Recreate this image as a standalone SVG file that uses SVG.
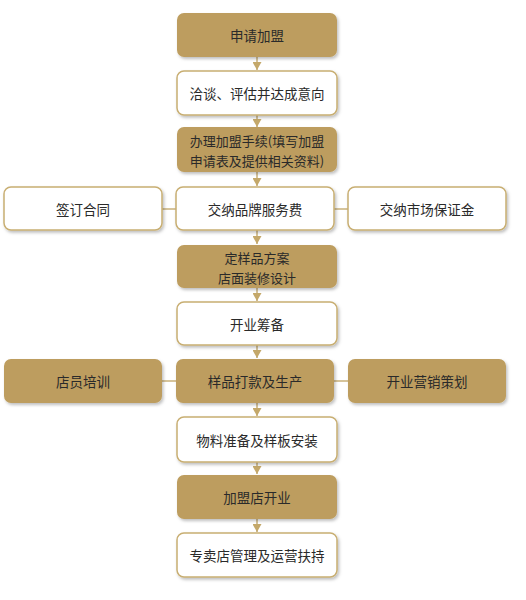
<svg xmlns="http://www.w3.org/2000/svg" width="526" height="600" viewBox="0 0 526 600">
<defs>
<filter id="sh" x="-10%" y="-20%" width="130%" height="150%">
<feDropShadow dx="1.5" dy="2" stdDeviation="1.5" flood-color="#000" flood-opacity="0.25"/>
</filter>
<marker id="ah" viewBox="0 0 10 10" refX="10" refY="5" markerWidth="8" markerHeight="9" orient="auto" markerUnits="userSpaceOnUse" preserveAspectRatio="none">
<path d="M0,0 L10,5 L0,10 Z" fill="#C4A86A"/>
</marker>
<style>
.g rect{fill:#BD9D5F;filter:url(#sh)}
.w rect{fill:#fff;stroke:#C8AE72;stroke-width:1.5;filter:url(#sh)}
text{font-family:"Noto Sans CJK SC","Noto Sans",sans-serif;font-size:13.5px;fill:#2a2a2a;text-anchor:middle;dominant-baseline:central}
text.m{font-size:13px}
.c line{stroke:#C9B07A;stroke-width:1.5}
</style>
</defs>
<rect width="526" height="600" fill="#fff"/>
<g class="c">
<line x1="257" y1="57" x2="257" y2="70" marker-end="url(#ah)"/>
<line x1="257" y1="115" x2="257" y2="127" marker-end="url(#ah)"/>
<line x1="257" y1="172" x2="257" y2="186" marker-end="url(#ah)"/>
<line x1="257" y1="230" x2="257" y2="244" marker-end="url(#ah)"/>
<line x1="257" y1="288" x2="257" y2="301" marker-end="url(#ah)"/>
<line x1="257" y1="345" x2="257" y2="358" marker-end="url(#ah)"/>
<line x1="257" y1="403" x2="257" y2="416" marker-end="url(#ah)"/>
<line x1="257" y1="462" x2="257" y2="474" marker-end="url(#ah)"/>
<line x1="257" y1="519" x2="257" y2="532" marker-end="url(#ah)"/>
<line x1="162" y1="209" x2="176" y2="209"/>
<line x1="334" y1="209" x2="348" y2="209"/>
<line x1="162" y1="381" x2="176" y2="381"/>
<line x1="334" y1="381" x2="348" y2="381"/>
</g>
<g id="n1" class="g"><rect x="177" y="13" width="160" height="44" rx="7"/><text x="257" y="35">申请加盟</text></g>
<g id="n2" class="w"><rect x="177" y="71" width="160" height="44" rx="7"/><text x="257" y="93">洽谈、评估并达成意向</text></g>
<g id="n3" class="g"><rect x="177" y="127" width="160" height="45" rx="7"/><text class="m" x="257" y="140">办理加盟手续(填写加盟</text><text class="m" x="257" y="160">申请表及提供相关资料)</text></g>
<g id="n4a" class="w"><rect x="4" y="187" width="158" height="43" rx="7"/><text x="83" y="209">签订合同</text></g>
<g id="n4" class="w"><rect x="176" y="187" width="158" height="43" rx="7"/><text x="255" y="209">交纳品牌服务费</text></g>
<g id="n4b" class="w"><rect x="348" y="187" width="158" height="43" rx="7"/><text x="427" y="209">交纳市场保证金</text></g>
<g id="n5" class="g"><rect x="177" y="245" width="160" height="43" rx="7"/><text class="m" x="257" y="257">定样品方案</text><text class="m" x="257" y="277">店面装修设计</text></g>
<g id="n6" class="w"><rect x="177" y="302" width="160" height="43" rx="7"/><text x="257" y="324">开业筹备</text></g>
<g id="n7a" class="g"><rect x="4" y="359" width="158" height="44" rx="7"/><text x="83" y="381">店员培训</text></g>
<g id="n7" class="g"><rect x="176" y="359" width="158" height="44" rx="7"/><text x="255" y="381">样品打款及生产</text></g>
<g id="n7b" class="g"><rect x="348" y="359" width="158" height="44" rx="7"/><text x="427" y="381">开业营销策划</text></g>
<g id="n8" class="w"><rect x="177" y="417" width="160" height="45" rx="7"/><text x="257" y="440">物料准备及样板安装</text></g>
<g id="n9" class="g"><rect x="177" y="475" width="160" height="44" rx="7"/><text x="257" y="497">加盟店开业</text></g>
<g id="n10" class="w"><rect x="177" y="533" width="160" height="44" rx="7"/><text x="257" y="555">专卖店管理及运营扶持</text></g>
</svg>
